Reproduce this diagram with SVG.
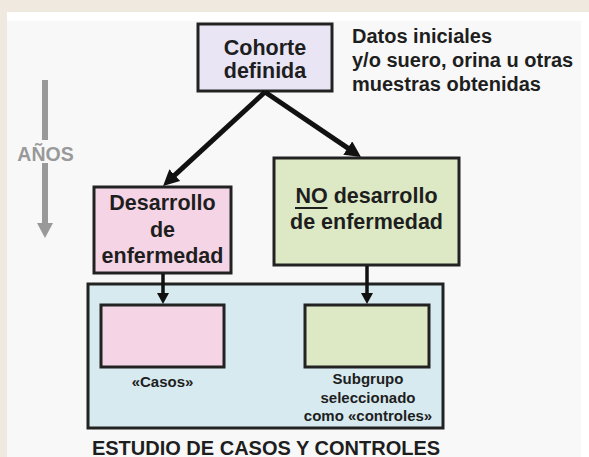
<svg xmlns="http://www.w3.org/2000/svg" width="589" height="457" viewBox="0 0 589 457">
  <style>
    .box { stroke: #222; stroke-width: 3; }
    .t { font-family: "Liberation Sans", Arial, sans-serif; font-weight: bold; fill: #1e1e1e; }
    .bt { font-size: 21.5px; text-anchor: middle; }
    .st { font-size: 15px; text-anchor: middle; }
    .conn { stroke: #111; fill: none; }
  </style>
  <defs>
    <marker id="bigHead" markerUnits="userSpaceOnUse" markerWidth="18" markerHeight="18" refX="6" refY="8" orient="auto">
      <path d="M0,0 L16,8 L0,16 z" fill="#111"/>
    </marker>
    <marker id="smallHead" markerUnits="userSpaceOnUse" markerWidth="14" markerHeight="14" refX="5" refY="6" orient="auto">
      <path d="M0,0 L11,6 L0,12 z" fill="#111"/>
    </marker>
  </defs>

  <!-- background -->
  <rect x="0" y="0" width="589" height="457" fill="#f0e9e0"/>
  <rect x="7" y="12" width="582" height="445" fill="#ffffff"/>
  <rect x="7" y="21" width="574" height="436" fill="#f8f8f8"/>

  <!-- time axis -->
  <g id="anos">
    <line x1="45" y1="80" x2="45" y2="140" stroke="#999" stroke-width="6"/>
    <text class="t" x="45.5" y="161" font-size="19.5" text-anchor="middle" style="fill:#999">AÑOS</text>
    <line x1="45" y1="163" x2="45" y2="225" stroke="#999" stroke-width="6"/>
    <polygon points="37,223 53,223 45,238" fill="#999"/>
  </g>

  <!-- study container -->
  <g id="estudio">
    <rect class="box" x="88" y="284" width="355" height="144" fill="#d6eaf0"/>
    <text class="t" x="266" y="454.5" font-size="20" text-anchor="middle">ESTUDIO DE CASOS Y CONTROLES</text>
  </g>

  <g id="cohorte">
    <rect class="box" x="198" y="24" width="134" height="67" fill="#e9e5f5"/>
    <text class="t bt" x="265" y="55">Cohorte</text>
    <text class="t bt" x="265" y="78">definida</text>
  </g>

  <g id="datos">
    <text class="t" x="352" y="43" font-size="20">Datos iniciales</text>
    <text class="t" x="352" y="67" font-size="20">y/o suero, orina u otras</text>
    <text class="t" x="352" y="91" font-size="20">muestras obtenidas</text>
  </g>

  <g id="desarrollo">
    <rect class="box" x="94" y="187" width="137" height="86" fill="#f5d5e5"/>
    <text class="t bt" x="162.5" y="210">Desarrollo</text>
    <text class="t bt" x="162.5" y="237">de</text>
    <text class="t bt" x="162.5" y="263">enfermedad</text>
  </g>

  <g id="no-desarrollo">
    <rect class="box" x="274" y="158" width="185" height="107" fill="#dde9c5"/>
    <text class="t bt" x="366.5" y="203">NO desarrollo</text>
    <line x1="295" y1="208" x2="327.5" y2="208" stroke="#1e1e1e" stroke-width="2"/>
    <text class="t bt" x="366.5" y="229">de enfermedad</text>
  </g>

  <g id="casos">
    <rect class="box" x="101" y="305" width="123" height="62" fill="#f5d5e5"/>
    <text class="t st" x="162.5" y="387">«Casos»</text>
  </g>

  <g id="controles">
    <rect class="box" x="305" y="305" width="124" height="62" fill="#dde9c5"/>
    <text class="t st" x="368" y="384">Subgrupo</text>
    <text class="t st" x="368" y="403">seleccionado</text>
    <text class="t st" x="368" y="421">como «controles»</text>
  </g>

  <g id="connectors">
    <line class="conn" x1="265" y1="92" x2="170.4" y2="179.2" stroke-width="5" marker-end="url(#bigHead)"/>
    <line class="conn" x1="265" y1="92" x2="352.7" y2="151.4" stroke-width="5" marker-end="url(#bigHead)"/>
    <line class="conn" x1="163" y1="274" x2="163" y2="298" stroke-width="3.5" marker-end="url(#smallHead)"/>
    <line class="conn" x1="367" y1="266" x2="367" y2="298" stroke-width="3.5" marker-end="url(#smallHead)"/>
  </g>
</svg>
